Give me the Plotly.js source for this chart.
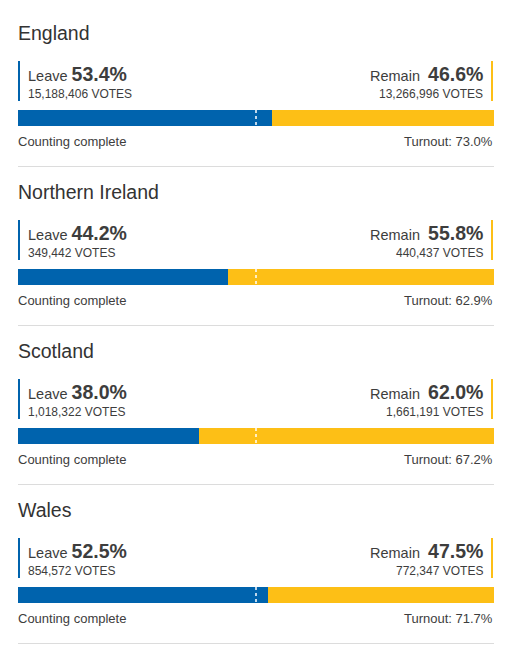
<!DOCTYPE html>
<html>
<head>
<meta charset="utf-8">
<script src="https://cdn.plot.ly/plotly-3.0.1.min.js"></script>
<style>
html,body{margin:0;padding:0;background:#fff;}
#chart{width:509px;height:657px;}
</style>
</head>
<body>
<div id="chart"></div>
<script>
// ---- data ----
var nations = ["England", "Northern Ireland", "Scotland", "Wales"];
var leavePct = [53.4, 44.2, 38.0, 52.5];
var remainPct = [46.6, 55.8, 62.0, 47.5];
var leaveVotes = [15188406, 349442, 1018322, 854572];
var remainVotes = [13266996, 440437, 1661191, 772347];
var turnout = [73.0, 62.9, 67.2, 71.7];
var countStatus = ["Counting complete", "Counting complete", "Counting complete", "Counting complete"];
var threshold = 50;

// ---- style ----
var BLUE = "#0063AD";
var YELLOW = "#FDBF16";
var TEXT = "#3d3d3d";
var FONT = "'Liberation Sans', Arial, sans-serif";
var W = 509, H = 657;
var ML = 18, MR = 15;
var PANEL = 159;      // px per panel
var BARC = 118;       // px centre of first bar
var BARH = 16;

function off(px) { return (px - BARC) / PANEL; } // pixel (within panel 0) -> data offset
function fmt(n) { return n.toLocaleString("en-US"); }

var traces = [
  {
    type: "bar", orientation: "h", y: nations, x: leavePct,
    marker: {color: BLUE, line: {width: 0}}, width: BARH / PANEL,
    hoverinfo: "skip", name: "Leave"
  },
  {
    type: "bar", orientation: "h", y: nations, x: remainPct,
    marker: {color: YELLOW, line: {width: 0}}, width: BARH / PANEL,
    hoverinfo: "skip", name: "Remain"
  }
];

var annotations = [];
var shapes = [];
var plotW = W - ML - MR;
nations.forEach(function (n, i) {
  // Title
  annotations.push({xref: "paper", yref: "y", x: 0, y: i + off(33), xanchor: "left", yanchor: "middle",
    text: n, showarrow: false, xshift: -2, font: {family: FONT, size: 19.5, color: "#333"}});
  // Leave label
  annotations.push({xref: "paper", yref: "y", x: 0, y: i + off(74), xanchor: "left", yanchor: "middle",
    text: "Leave <span style='font-size:19.5px'><b>" + leavePct[i].toFixed(1) + "%</b></span>",
    showarrow: false, xshift: 8, font: {family: FONT, size: 14.5, color: TEXT}});
  annotations.push({xref: "paper", yref: "y", x: 0, y: i + off(94), xanchor: "left", yanchor: "middle",
    text: fmt(leaveVotes[i]) + " VOTES", showarrow: false, xshift: 8,
    font: {family: FONT, size: 12, color: TEXT}});
  // Remain label
  annotations.push({xref: "paper", yref: "y", x: 1, y: i + off(74), xanchor: "right", yanchor: "middle",
    text: "Remain&nbsp; <span style='font-size:19.5px'><b>" + remainPct[i].toFixed(1) + "%</b></span>",
    showarrow: false, xshift: -9, font: {family: FONT, size: 14.5, color: TEXT}});
  annotations.push({xref: "paper", yref: "y", x: 1, y: i + off(94), xanchor: "right", yanchor: "middle",
    text: fmt(remainVotes[i]) + " VOTES", showarrow: false, xshift: -9,
    font: {family: FONT, size: 12, color: TEXT}});
  // Status / turnout
  annotations.push({xref: "paper", yref: "y", x: 0, y: i + off(141.5), xanchor: "left", yanchor: "middle",
    text: countStatus[i], showarrow: false, xshift: -2, font: {family: FONT, size: 13, color: TEXT}});
  annotations.push({xref: "paper", yref: "y", x: 1, y: i + off(141.5), xanchor: "right", yanchor: "middle",
    text: "Turnout: " + turnout[i].toFixed(1) + "%", showarrow: false, xshift: 1,
    font: {family: FONT, size: 13, color: TEXT}});

  // vertical accent lines
  shapes.push({type: "line", xref: "paper", yref: "y", x0: 1 / plotW, x1: 1 / plotW,
    y0: i + off(61), y1: i + off(101), line: {color: BLUE, width: 2}});
  shapes.push({type: "line", xref: "paper", yref: "y", x0: 1 - 2 / plotW, x1: 1 - 2 / plotW,
    y0: i + off(61), y1: i + off(101), line: {color: YELLOW, width: 2}});
  // threshold dotted line
  shapes.push({type: "line", xref: "x", yref: "y", x0: threshold, x1: threshold,
    y0: i - BARH / PANEL / 2, y1: i + BARH / PANEL / 2, line: {color: "#fff", width: 1.5, dash: "dot"}});
  // separator
  shapes.push({type: "line", xref: "paper", yref: "y", x0: 0, x1: 1,
    y0: i + off(166.5), y1: i + off(166.5), line: {color: "#dcdcdc", width: 1}});
});

var layout = {
  width: W, height: H,
  margin: {l: ML, r: MR, t: 0, b: 0, pad: 0},
  paper_bgcolor: "#fff", plot_bgcolor: "#fff",
  barmode: "stack", bargap: 0,
  showlegend: false,
  xaxis: {range: [0, 100], visible: false, fixedrange: true},
  yaxis: {type: "category", categoryarray: nations, categoryorder: "array",
    range: [off(H), off(0)], visible: false, fixedrange: true},
  annotations: annotations,
  shapes: shapes,
  font: {family: FONT}
};

Plotly.newPlot("chart", traces, layout, {displayModeBar: false, staticPlot: true});
</script>
</body>
</html>
